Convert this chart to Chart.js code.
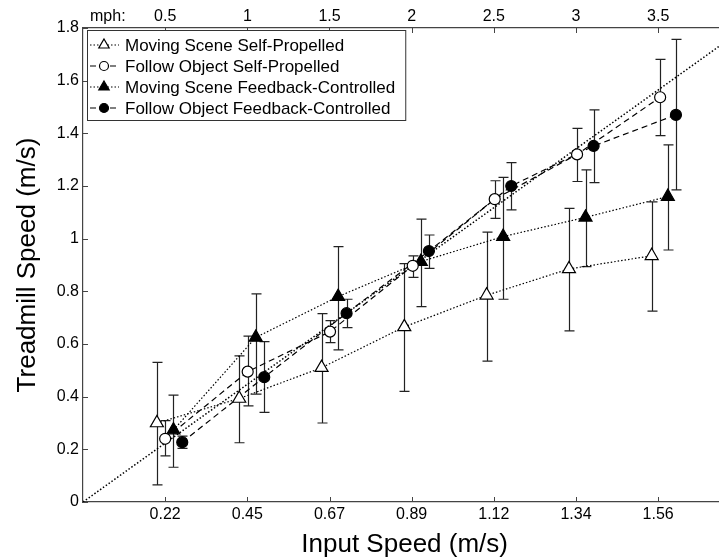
<!DOCTYPE html>
<html>
<head>
<meta charset="utf-8">
<script src="https://cdn.jsdelivr.net/npm/chart.js@4/dist/chart.umd.min.js"></script>
<style>
  html, body { margin: 0; padding: 0; background: #fff; overflow: hidden; }
  #wrap { width: 735px; height: 560px; }
</style>
</head>
<body>
<div id="wrap"><canvas id="speedChart" width="735" height="560"></canvas></div>
<script>
// ---- data ----
const seriesNames = [
    'Moving Scene Self-Propelled',
    'Follow Object Self-Propelled',
    'Moving Scene Feedback-Controlled',
    'Follow Object Feedback-Controlled'
];

// Moving Scene Self-Propelled (open triangle)
const msspX = [0.201, 0.425, 0.649, 0.874, 1.098, 1.322, 1.547];
const msspY = [0.300, 0.393, 0.510, 0.665, 0.785, 0.885, 0.935];
const msspLo = [0.065, 0.225, 0.300, 0.420, 0.535, 0.650, 0.725];
const msspHi = [0.530, 0.555, 0.715, 0.905, 1.025, 1.115, 1.140];

// Follow Object Self-Propelled (open circle)
const fospX = [0.2235, 0.448, 0.672, 0.897, 1.120, 1.344, 1.570];
const fospY = [0.240, 0.495, 0.647, 0.897, 1.150, 1.320, 1.537];
const fospLo = [0.175, 0.365, 0.605, 0.853, 1.077, 1.217, 1.391];
const fospHi = [0.309, 0.630, 0.689, 0.935, 1.220, 1.419, 1.681];

// Moving Scene Feedback-Controlled (filled triangle)
const msfcX = [0.246, 0.470, 0.694, 0.919, 1.143, 1.367, 1.591];
const msfcY = [0.273, 0.625, 0.780, 0.913, 1.008, 1.081, 1.160];
const msfcLo = [0.132, 0.410, 0.578, 0.742, 0.770, 0.894, 0.957];
const msfcHi = [0.406, 0.790, 0.970, 1.074, 1.233, 1.261, 1.356];

// Follow Object Feedback-Controlled (filled circle)
const fofcX = [0.270, 0.493, 0.717, 0.941, 1.165, 1.389, 1.613];
const fofcY = [0.227, 0.474, 0.717, 0.953, 1.200, 1.352, 1.470];
const fofcLo = [0.204, 0.340, 0.662, 0.887, 1.109, 1.213, 1.185];
const fofcHi = [0.250, 0.609, 0.770, 1.014, 1.289, 1.489, 1.757];

// unity line
const refX = [0, 1.75];
const refY = [0, 1.75];

// bottom ticks (m/s) and top ticks (mph)
const xTickVals = [0.2235, 0.4470, 0.6706, 0.8941, 1.1176, 1.3411, 1.5646];
const xTickLabels = ['0.22', '0.45', '0.67', '0.89', '1.12', '1.34', '1.56'];
const mphTickVals = [0.5, 1, 1.5, 2, 2.5, 3, 3.5];

// the original figure is cropped on the right, so the axis runs past the window
const X_MAX = 1.75;
const MPS_PER_MPH = 0.44704;
const FONT = "'Liberation Sans', Arial, Helvetica, sans-serif";

const DOTTED = [1.5, 2];
const DASHED = [6, 4];

function pts(xs, ys) {
    return xs.map((x, i) => ({ x: x, y: ys[i] }));
}

const seriesStyle = [
    { style: 'triangle', fill: '#ffffff', dash: DOTTED, radius: 7.5, legendRadius: 6 },
    { style: 'circle', fill: '#ffffff', dash: DASHED, radius: 5.5, legendRadius: 4.5 },
    { style: 'triangle', fill: '#000000', dash: DOTTED, radius: 7.5, legendRadius: 6 },
    { style: 'circle', fill: '#000000', dash: DASHED, radius: 5.5, legendRadius: 4.5 }
];
const seriesData = [
    { x: msspX, y: msspY, lo: msspLo, hi: msspHi },
    { x: fospX, y: fospY, lo: fospLo, hi: fospHi },
    { x: msfcX, y: msfcY, lo: msfcLo, hi: msfcHi },
    { x: fofcX, y: fofcY, lo: fofcLo, hi: fofcHi }
];

const datasets = seriesData.map((s, i) => ({
    label: seriesNames[i],
    data: pts(s.x, s.y),
    showLine: true,
    borderColor: '#000',
    borderWidth: 1.2,
    borderDash: seriesStyle[i].dash,
    pointStyle: seriesStyle[i].style,
    pointRadius: seriesStyle[i].radius,
    pointBackgroundColor: seriesStyle[i].fill,
    pointBorderColor: '#000',
    pointBorderWidth: 1.2,
    order: 1
}));

datasets.push({
    label: 'unity',
    data: pts(refX, refY),
    showLine: true,
    borderColor: '#000',
    borderWidth: 1.5,
    borderDash: DOTTED,
    pointRadius: 0,
    order: 5
});

// error bars, drawn under the markers
const errorBars = {
    id: 'errorBars',
    beforeDatasetsDraw(chart) {
        const ctx = chart.ctx;
        const xs = chart.scales.x, ys = chart.scales.y;
        ctx.save();
        ctx.strokeStyle = '#222';
        ctx.lineWidth = 1.2;
        ctx.setLineDash([]);
        seriesData.forEach(s => {
            s.x.forEach((xv, j) => {
                const px = Math.round(xs.getPixelForValue(xv)) + 0.5;
                const pLo = ys.getPixelForValue(s.lo[j]);
                const pHi = ys.getPixelForValue(s.hi[j]);
                ctx.beginPath();
                ctx.moveTo(px, pLo); ctx.lineTo(px, pHi);
                ctx.moveTo(px - 5, pLo); ctx.lineTo(px + 5, pLo);
                ctx.moveTo(px - 5, pHi); ctx.lineTo(px + 5, pHi);
                ctx.stroke();
            });
        });
        ctx.restore();
    }
};

// inward ticks, "mph:" label and the boxed legend
const decorations = {
    id: 'decorations',
    afterDatasetsDraw(chart) {
        const ctx = chart.ctx;
        const a = chart.chartArea;
        ctx.save();
        ctx.strokeStyle = '#444';
        ctx.lineWidth = 1;
        ctx.setLineDash([]);
        ctx.beginPath();
        chart.scales.x.ticks.forEach((t, i) => {
            const px = Math.round(chart.scales.x.getPixelForTick(i)) + 0.5;
            ctx.moveTo(px, a.bottom); ctx.lineTo(px, a.bottom - 5);
        });
        chart.scales.x2.ticks.forEach((t, i) => {
            const px = Math.round(chart.scales.x2.getPixelForTick(i)) + 0.5;
            ctx.moveTo(px, a.top); ctx.lineTo(px, a.top + 5);
        });
        chart.scales.y.ticks.forEach((t, i) => {
            const py = Math.round(chart.scales.y.getPixelForTick(i)) + 0.5;
            ctx.moveTo(a.left, py); ctx.lineTo(a.left + 5, py);
        });
        ctx.stroke();

        ctx.fillStyle = '#000';
        ctx.font = '16px ' + FONT;
        ctx.textBaseline = 'middle';
        ctx.textAlign = 'left';
        ctx.fillText('mph:', a.left + 7, 17);

        // legend
        const bx = a.left + 4, by = a.top + 2;
        const rowH = 21;
        ctx.font = '17px ' + FONT;
        let tw = 0;
        seriesNames.forEach(n => { tw = Math.max(tw, ctx.measureText(n).width); });
        const bw = 42 + tw + 6, bh = rowH * seriesNames.length + 6;
        ctx.fillStyle = '#fff';
        ctx.fillRect(bx, by, bw, bh);
        ctx.strokeStyle = '#333';
        ctx.strokeRect(bx + 0.5, by + 0.5, bw, bh);
        seriesNames.forEach((n, i) => {
            const cy = by + 15 + i * rowH;
            const st = seriesStyle[i];
            ctx.strokeStyle = '#000';
            ctx.lineWidth = 1.2;
            ctx.setLineDash(st.dash);
            ctx.beginPath();
            ctx.moveTo(bx + 3, cy); ctx.lineTo(bx + 32, cy);
            ctx.stroke();
            ctx.setLineDash([]);
            ctx.fillStyle = st.fill;
            Chart.helpers.drawPoint(ctx, {
                pointStyle: st.style, radius: st.legendRadius, borderWidth: 1.2, rotation: 0
            }, bx + 17, cy);
            ctx.fillStyle = '#000';
            ctx.fillText(n, bx + 38, cy + 1);
        });
        ctx.restore();
    }
};

const ctx = document.getElementById('speedChart').getContext('2d');
new Chart(ctx, {
    type: 'scatter',
    data: { datasets: datasets },
    plugins: [errorBars, decorations],
    options: {
        responsive: false,
        animation: false,
        layout: { padding: { right: 2, top: 0, left: 0, bottom: 0 } },
        plugins: {
            legend: { display: false },
            tooltip: { enabled: false }
        },
        scales: {
            x: {
                type: 'linear',
                position: 'bottom',
                min: 0,
                max: X_MAX,
                afterBuildTicks: (scale) => {
                    scale.ticks = xTickVals.map(v => ({ value: v }));
                },
                afterFit: (scale) => { scale.height = 58; },
                ticks: {
                    color: '#000',
                    font: { family: FONT, size: 16 },
                    padding: 3,
                    maxRotation: 0,
                    callback: (v, i) => xTickLabels[i]
                },
                grid: { display: false, drawTicks: false },
                border: { display: true, color: '#444', width: 1.2 },
                title: {
                    display: true,
                    text: 'Input Speed (m/s)',
                    color: '#000',
                    font: { family: FONT, size: 26 },
                    padding: { top: 0, bottom: 0 }
                }
            },
            x2: {
                type: 'linear',
                position: 'top',
                min: 0,
                max: X_MAX / MPS_PER_MPH,
                afterBuildTicks: (scale) => {
                    scale.ticks = mphTickVals.map(v => ({ value: v }));
                },
                afterFit: (scale) => { scale.height = 28; },
                ticks: {
                    color: '#000',
                    font: { family: FONT, size: 16 },
                    padding: 2,
                    maxRotation: 0,
                    callback: (v) => String(v)
                },
                grid: { display: false, drawTicks: false },
                border: { display: true, color: '#444', width: 1.2 }
            },
            y: {
                type: 'linear',
                min: 0,
                max: 1.8,
                afterFit: (scale) => { scale.width = 83; },
                ticks: {
                    stepSize: 0.2,
                    color: '#000',
                    font: { family: FONT, size: 16 },
                    padding: 4,
                    callback: (v) => String(Math.round(v * 10) / 10)
                },
                grid: { display: false, drawTicks: false },
                border: { display: true, color: '#444', width: 1.2 },
                title: {
                    display: true,
                    text: 'Treadmill Speed (m/s)',
                    color: '#000',
                    font: { family: FONT, size: 26 },
                    padding: { top: 12, bottom: 0 }
                }
            }
        }
    }
});
</script>
</body>
</html>
